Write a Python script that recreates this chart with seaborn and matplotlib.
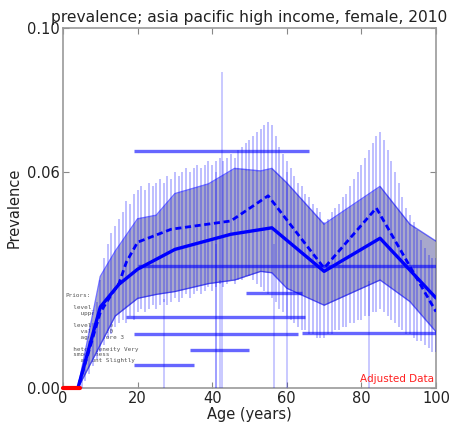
import numpy as np
import pandas as pd
import matplotlib
matplotlib.use("Agg")
import matplotlib.pyplot as plt
import seaborn as sns

# ---- model summary at knots ----
mean_age = [0, 4, 10, 15, 20, 30, 45, 56, 70, 85, 100]
mean_val = [0.0, 0.0, 0.0225, 0.0288, 0.0330, 0.0385, 0.0427, 0.0445, 0.0324, 0.0416, 0.0250]

median_age = [0, 4, 10, 13, 15, 17, 20, 29, 45, 53, 55, 70, 84, 100]
median_val = [0.0, 0.0, 0.0210, 0.0260, 0.0290, 0.0350, 0.0405, 0.0441, 0.0464, 0.0520, 0.0534, 0.0333, 0.0500, 0.0212]

band_age = [0, 4, 10, 14, 20, 25, 30, 39, 46, 53, 56, 60, 70, 85, 93, 100]
band_upper = [0.0, 0.0, 0.031, 0.038, 0.047, 0.048, 0.054, 0.0567, 0.061, 0.0603, 0.061, 0.057, 0.0455, 0.056, 0.0455, 0.0408]
band_lower = [0.0, 0.0, 0.012, 0.020, 0.0249, 0.026, 0.0268, 0.029, 0.030, 0.0324, 0.0320, 0.0277, 0.023, 0.030, 0.024, 0.0156]

# ---- per-year posterior intervals ----
year_age = list(range(5, 101))
year_top = [0.003, 0.008, 0.013, 0.018, 0.024, 0.030, 0.036, 0.040, 0.043, 0.045,
            0.047, 0.049, 0.052, 0.051, 0.054, 0.055, 0.056, 0.055, 0.057, 0.056,
            0.057, 0.058, 0.057, 0.059, 0.058, 0.060, 0.059, 0.060, 0.061, 0.060,
            0.061, 0.062, 0.061, 0.062, 0.063, 0.062, 0.063, 0.064, 0.063, 0.064,
            0.065, 0.064, 0.066, 0.067, 0.068, 0.069, 0.070, 0.071, 0.072, 0.073,
            0.074, 0.073, 0.070, 0.067, 0.065, 0.063, 0.061, 0.059, 0.057, 0.056,
            0.054, 0.053, 0.051, 0.050, 0.049, 0.046, 0.047, 0.049, 0.050, 0.051,
            0.053, 0.054, 0.056, 0.058, 0.060, 0.062, 0.064, 0.066, 0.068, 0.070,
            0.071, 0.069, 0.066, 0.063, 0.060, 0.057, 0.053, 0.050, 0.048, 0.046,
            0.044, 0.041, 0.039, 0.037, 0.036, 0.036]
year_bottom = [0.000, 0.002, 0.004, 0.006, 0.008, 0.010, 0.012, 0.014, 0.015, 0.017,
               0.018, 0.019, 0.018, 0.020, 0.019, 0.021, 0.022, 0.021, 0.022, 0.023,
               0.022, 0.023, 0.024, 0.023, 0.024, 0.025, 0.024, 0.025, 0.026, 0.025,
               0.026, 0.027, 0.026, 0.027, 0.028, 0.027, 0.028, 0.029, 0.028, 0.029,
               0.030, 0.029, 0.030, 0.030, 0.031, 0.031, 0.030, 0.029, 0.028, 0.027,
               0.026, 0.025, 0.024, 0.022, 0.021, 0.020, 0.019, 0.018, 0.017, 0.016,
               0.016, 0.015, 0.015, 0.014, 0.014, 0.014, 0.015, 0.015, 0.016, 0.016,
               0.017, 0.017, 0.018, 0.018, 0.019, 0.019, 0.020, 0.020, 0.021, 0.021,
               0.022, 0.021, 0.020, 0.019, 0.018, 0.017, 0.016, 0.015, 0.015, 0.014,
               0.013, 0.013, 0.012, 0.011, 0.010, 0.010]

# ---- observed data (age ranges) ----
data_age_start = [19, 20, 49, 17, 19, 64, 34, 19]
data_age_end = [66, 100, 64, 65, 63, 100, 50, 35]
data_value = [0.0659, 0.0338, 0.0263, 0.0198, 0.0151, 0.0152, 0.0106, 0.0064]
data_lower = [0.0, 0.0, 0.0, 0.0, 0.0, 0.0, 0.0, 0.0]
data_upper = [0.0877, 0.060, 0.040, 0.060, 0.040, 0.0296, 0.030, 0.0246]

adjusted_age = [0, 4.5]
adjusted_val = [0.0, 0.0]

xticks = [0, 20, 40, 60, 80, 100]
yticks = [0.0, 0.06, 0.10]

priors_text = ("Priors:\n\n  level_bounds\n    upper 0.1\n\n  level_value\n"
               "    value 0.0\n    age_before 3\n\n  heterogeneity Very\n"
               "  smoothness\n    amount Slightly")

sns.set_style("white")
plt.rcParams["font.family"] = ["DejaVu Sans"]

fig = plt.figure(figsize=(4.54, 4.30), dpi=100)
ax = fig.add_axes([63 / 454, 42 / 430, 373 / 454, 360 / 430])

ax.text(0.7, 0.0265, priors_text, family="DejaVu Sans Mono", fontsize=4.3,
        color="#555555", va="top", ha="left", linespacing=1.2, zorder=1)

# uncertainty band
ax.fill_between(band_age, band_lower, band_upper, color="#c4c4c4", lw=0, zorder=2)
ax.fill_between(band_age, band_lower, band_upper, color="blue", alpha=0.14, lw=0, zorder=2.5)

# per-year intervals
ax.vlines(year_age, year_bottom, year_top, color="blue", alpha=0.3, lw=1.2, zorder=3)

# band edges
ax.plot(band_age, band_upper, color="blue", lw=1.0, alpha=0.55, zorder=4)
ax.plot(band_age, band_lower, color="blue", lw=1.0, alpha=0.55, zorder=4)

# data error bars and age ranges
mids = [(s + e) / 2 for s, e in zip(data_age_start, data_age_end)]
ax.vlines(mids, data_lower, data_upper, color="blue", alpha=0.25, lw=1.2, zorder=3)
ax.hlines(data_value, data_age_start, data_age_end, color="blue", alpha=0.6, lw=2.4, zorder=5)

# mean and median
mean_df = pd.DataFrame({"age": mean_age, "value": mean_val})
median_df = pd.DataFrame({"age": median_age, "value": median_val})
sns.lineplot(data=mean_df, x="age", y="value", ax=ax, color="blue", lw=2.4,
             estimator=None, sort=False, zorder=6)
sns.lineplot(data=median_df, x="age", y="value", ax=ax, color="blue", lw=2.0,
             estimator=None, sort=False, zorder=6, linestyle=(0, (2.2, 1.3)))

ax.plot(adjusted_age, adjusted_val, color="red", lw=3, zorder=7, clip_on=False)
ax.text(99.5, 0.0012, "Adjusted Data", color="#ff2020", fontsize=7.5,
        ha="right", va="bottom", zorder=8)

ax.set_xlim(0, 100)
ax.set_ylim(0, 0.10)
ax.set_xticks(xticks)
ax.set_yticks(yticks)
ax.set_xticklabels([str(t) for t in xticks])
ax.set_yticklabels(["%.2f" % t for t in yticks])
ax.tick_params(direction="in", length=4, width=0.8, color="#888888",
               top=True, right=True, bottom=True, left=True,
               labelsize=10.5, labelcolor="#222222", pad=2)
for sp in ax.spines.values():
    sp.set_color("#999999")
    sp.set_linewidth(1.2)

ax.set_xlabel("Age (years)", fontsize=10.5, color="#222222", labelpad=1)
ax.set_ylabel("Prevalence", fontsize=10.5, color="#222222", labelpad=4)
ax.set_title("prevalence; asia pacific high income, female, 2010",
             fontsize=11.2, color="#222222", pad=4)

fig.savefig("out.png", dpi=100)
